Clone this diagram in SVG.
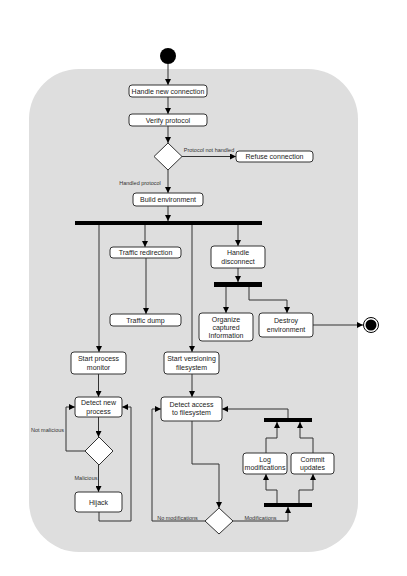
<svg xmlns="http://www.w3.org/2000/svg" width="407" height="576" viewBox="0 0 407 576">
<style>
.bg{fill:#dedede}
.box{fill:#fff;stroke:#333;stroke-width:1}
.dia{fill:#fff;stroke:#333;stroke-width:1}
.bar{fill:#000}
.t{font-family:"Liberation Sans",Arial,sans-serif;font-size:7px;fill:#222;text-anchor:middle}
.l{font-family:"Liberation Sans",Arial,sans-serif;font-size:5.5px;fill:#333}
.c{fill:none;stroke:#333;stroke-width:1}
</style>
<defs>
<marker id="a" viewBox="0 0 10 10" refX="10" refY="5" markerWidth="6" markerHeight="6" markerUnits="userSpaceOnUse" orient="auto"><path d="M0,0 L10,5 L0,10 z" fill="#000"/></marker>
</defs>
<rect class="bg" x="29" y="69" width="329" height="483" rx="50"/>
<g id="connectors">
<path class="c" marker-end="url(#a)" d="M168,64 V85"/>
<path class="c" marker-end="url(#a)" d="M168,97 V114"/>
<path class="c" marker-end="url(#a)" d="M168,126 V143"/>
<path class="c" marker-end="url(#a)" d="M182,156.5 H236"/>
<path class="c" marker-end="url(#a)" d="M168,170 V193"/>
<path class="c" marker-end="url(#a)" d="M168,206 V221"/>
<path class="c" marker-end="url(#a)" d="M99,225 V352"/>
<path class="c" marker-end="url(#a)" d="M145,225 V247"/>
<path class="c" marker-end="url(#a)" d="M192,225 V352"/>
<path class="c" marker-end="url(#a)" d="M238,225 V246"/>
<path class="c" marker-end="url(#a)" d="M146,258 V314"/>
<path class="c" marker-end="url(#a)" d="M238,268 V282"/>
<path class="c" marker-end="url(#a)" d="M226,287 V313"/>
<path class="c" marker-end="url(#a)" d="M249,287 V300 H287 V313"/>
<path class="c" marker-end="url(#a)" d="M313,325 H363"/>
<path class="c" marker-end="url(#a)" d="M98.5,374 V397"/>
<path class="c" marker-end="url(#a)" d="M98.5,417 V437"/>
<path class="c" marker-end="url(#a)" d="M85,451 H66 V407 H75"/>
<path class="c" marker-end="url(#a)" d="M98.5,465 V492"/>
<path class="c" marker-end="url(#a)" d="M99,512 V521 H131 V407 H122"/>
<path class="c" marker-end="url(#a)" d="M192,374 V397"/>
<path class="c" marker-end="url(#a)" d="M192,421 V464 H219 V508"/>
<path class="c" marker-end="url(#a)" d="M205,521 H152 V409 H161"/>
<path class="c" marker-end="url(#a)" d="M233,521 H288 V507"/>
<path class="c" marker-end="url(#a)" d="M277,503 V490 H266 V474"/>
<path class="c" marker-end="url(#a)" d="M299,503 V490 H313 V474"/>
<path class="c" marker-end="url(#a)" d="M266,453 V438 H277 V422"/>
<path class="c" marker-end="url(#a)" d="M313,453 V438 H300 V422"/>
<path class="c" marker-end="url(#a)" d="M288,418 V409 H222"/>
<text class="l" x="209" y="152" text-anchor="middle">Protocol not handled</text>
<text class="l" x="140" y="185" text-anchor="middle">Handled protocol</text>
<text class="l" x="47.5" y="432" text-anchor="middle">Not malicious</text>
<text class="l" x="86" y="480" text-anchor="middle">Malicious</text>
<text class="l" x="177.5" y="520" text-anchor="middle">No modifications</text>
<text class="l" x="260.5" y="520" text-anchor="middle">Modifications</text>
</g>
<g id="start"><circle cx="168" cy="56" r="8" fill="#000"/></g>
<g id="handle-new-connection"><rect class="box" x="129" y="85" width="78" height="12" rx="3"/><text class="t" x="168" y="93.5">Handle new connection</text></g>
<g id="verify-protocol"><rect class="box" x="129" y="114" width="78" height="12" rx="3"/><text class="t" x="168" y="122.5">Verify protocol</text></g>
<g id="decision-protocol"><polygon class="dia" points="168,143 182,156.5 168,170 154,156.5"/></g>
<g id="refuse-connection"><rect class="box" x="236" y="151" width="77" height="11" rx="3"/><text class="t" x="274.5" y="159">Refuse connection</text></g>
<g id="build-environment"><rect class="box" x="133" y="193" width="70" height="13" rx="3"/><text class="t" x="168" y="202">Build environment</text></g>
<g id="fork1"><rect class="bar" x="75" y="221" width="187" height="4"/></g>
<g id="traffic-redirection"><rect class="box" x="110" y="247" width="71" height="11" rx="3"/><text class="t" x="145.5" y="255">Traffic redirection</text></g>
<g id="traffic-dump"><rect class="box" x="110" y="314" width="71" height="12" rx="3"/><text class="t" x="145.5" y="322.5">Traffic dump</text></g>
<g id="handle-disconnect"><rect class="box" x="211" y="246" width="54" height="22" rx="3"/><text class="t" x="238" y="255">Handle</text><text class="t" x="238" y="263.5">disconnect</text></g>
<g id="fork2"><rect class="bar" x="214" y="282" width="48" height="5"/></g>
<g id="organize"><rect class="box" x="199" y="313" width="54" height="28" rx="3"/><text class="t" x="226" y="321.5">Organize</text><text class="t" x="226" y="329.5">captured</text><text class="t" x="226" y="338">Information</text></g>
<g id="destroy-environment"><rect class="box" x="259" y="313" width="54" height="24" rx="3"/><text class="t" x="286" y="323">Destroy</text><text class="t" x="286" y="331.5">environment</text></g>
<g id="end"><circle cx="371" cy="325" r="7.5" fill="#fff" stroke="#000" stroke-width="1"/><circle cx="371" cy="325" r="5.5" fill="#000"/></g>
<g id="start-process-monitor"><rect class="box" x="71" y="352" width="55" height="22" rx="3"/><text class="t" x="98.5" y="361">Start process</text><text class="t" x="98.5" y="369.5">monitor</text></g>
<g id="start-versioning"><rect class="box" x="164" y="352" width="55" height="22" rx="3"/><text class="t" x="191.5" y="361">Start versioning</text><text class="t" x="191.5" y="369.5">filesystem</text></g>
<g id="detect-new-process"><rect class="box" x="75" y="397" width="47" height="20" rx="3"/><text class="t" x="98.5" y="405">Detect new</text><text class="t" x="98.5" y="413.5">process</text></g>
<g id="decision-malicious"><polygon class="dia" points="99,437 113,451 99,465 85,451"/></g>
<g id="hijack"><rect class="box" x="75" y="492" width="47" height="20" rx="3"/><text class="t" x="98.5" y="504.5">Hijack</text></g>
<g id="detect-access"><rect class="box" x="161" y="397" width="61" height="24" rx="3"/><text class="t" x="191.5" y="406.5">Detect access</text><text class="t" x="191.5" y="415">to filesystem</text></g>
<g id="decision-modifications"><polygon class="dia" points="219,508 233,521 219,534 205,521"/></g>
<g id="join"><rect class="bar" x="264" y="418" width="48" height="4"/></g>
<g id="log-modifications"><rect class="box" x="243" y="453" width="44" height="21" rx="3"/><text class="t" x="265" y="461.5">Log</text><text class="t" x="265" y="470">modifications</text></g>
<g id="commit-updates"><rect class="box" x="291" y="453" width="43" height="21" rx="3"/><text class="t" x="312.5" y="461.5">Commit</text><text class="t" x="312.5" y="470">updates</text></g>
<g id="fork3"><rect class="bar" x="264" y="503" width="48" height="4"/></g>
</svg>
